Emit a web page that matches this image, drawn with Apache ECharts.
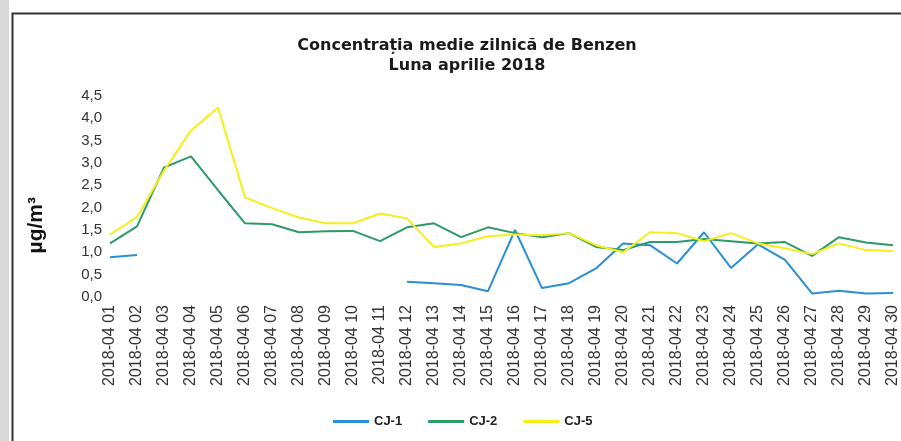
<!DOCTYPE html>
<html>
<head>
<meta charset="utf-8">
<script src="https://cdn.jsdelivr.net/npm/echarts@6/dist/echarts.min.js"></script>
<style>
  html, body { margin: 0; padding: 0; background: #fff; }
  #main { width: 901px; height: 441px; }
</style>
</head>
<body>
<div id="main"></div>
<script>
// zilele lunii aprilie 2018
var days = [];
for (var d = 1; d <= 30; d++) {
    days.push('2018-04 ' + (d < 10 ? '0' + d : d));
}

// valori (µg/m3)
var cj1 = [0.89, 0.94, null, null, null, null, null, null, null, null,
           null, 0.34, 0.31, 0.27, 0.13, 1.50, 0.20, 0.31, 0.64, 1.20,
           1.16, 0.75, 1.45, 0.65, 1.18, 0.83, 0.08, 0.14, 0.08, 0.09];
var cj2 = [1.20, 1.58, 2.90, 3.15, 2.39, 1.65, 1.63, 1.45, 1.47, 1.48,
           1.25, 1.56, 1.65, 1.34, 1.56, 1.43, 1.34, 1.43, 1.12, 1.05,
           1.23, 1.23, 1.30, 1.25, 1.20, 1.23, 0.92, 1.34, 1.22, 1.16];
var cj5 = [1.40, 1.79, 2.83, 3.73, 4.24, 2.23, 1.99, 1.78, 1.65, 1.65,
           1.87, 1.76, 1.12, 1.20, 1.36, 1.40, 1.38, 1.43, 1.16, 1.00,
           1.45, 1.43, 1.25, 1.43, 1.20, 1.09, 0.96, 1.20, 1.05, 1.03];

var myChart = echarts.init(document.getElementById('main'));

function serie(name, data, color) {
    return {
        name: name,
        type: 'line',
        data: data,
        symbol: 'none',
        connectNulls: false,
        lineStyle: { color: color, width: 2 },
        itemStyle: { color: color }
    };
}

myChart.setOption({
    animation: false,
    backgroundColor: '#fff',
    title: {
        text: 'Concentrația medie zilnică de Benzen\nLuna aprilie 2018',
        left: 462,
        top: 31,
        textAlign: 'center',
        textStyle: {
            fontFamily: 'DejaVu Sans',
            fontSize: 16,
            fontWeight: 'bold',
            color: '#1a1a1a',
            lineHeight: 20
        }
    },
    legend: {
        bottom: 8,
        left: 328,
        itemWidth: 36,
        itemHeight: 3,
        itemGap: 26,
        icon: 'rect',
        textStyle: { fontFamily: 'Liberation Sans', fontSize: 13, fontWeight: 'bold', color: '#222' },
        data: ['CJ-1', 'CJ-2', 'CJ-5']
    },
    grid: { left: 110, right: 8, top: 96, bottom: 144 },
    xAxis: {
        type: 'category',
        data: days,
        boundaryGap: false,
        axisLine: { show: false },
        axisTick: { show: false },
        axisLabel: {
            rotate: 90,
            interval: 0,
            margin: 8,
            fontFamily: 'Liberation Sans',
            fontSize: 16,
            color: '#333'
        }
    },
    yAxis: {
        type: 'value',
        min: 0,
        max: 4.5,
        interval: 0.5,
        splitLine: { show: false },
        axisLine: { show: false },
        axisTick: { show: false },
        axisLabel: {
            margin: 8,
            fontFamily: 'Liberation Sans',
            fontSize: 15,
            color: '#333',
            formatter: function (v) { return v.toFixed(1).replace('.', ','); }
        }
    },
    graphic: [
        { type: 'rect', left: 0, top: 0, shape: { width: 9, height: 441 }, style: { fill: '#d9d9d9' } },
        { type: 'rect', left: 10, top: 11, shape: { width: 900, height: 440 },
          style: { fill: 'none', stroke: '#333', lineWidth: 2 } },
        { type: 'text', left: 26, top: 197, rotation: Math.PI / 2,
          style: { text: 'µg/m³', fontFamily: 'Liberation Sans', fontSize: 21, fontWeight: 'bold', fill: '#111' } }
    ],
    series: [
        serie('CJ-1', cj1, '#2a8fd4'),
        serie('CJ-2', cj2, '#2e9a6a'),
        serie('CJ-5', cj5, '#f4ef1c')
    ]
});
</script>
</body>
</html>
